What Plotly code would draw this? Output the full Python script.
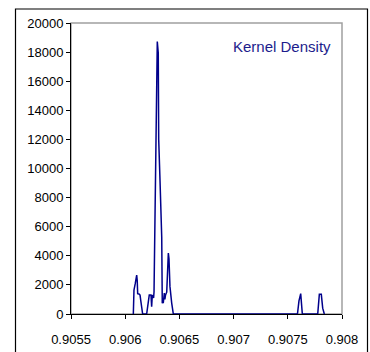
import plotly.graph_objects as go

# Kernel density estimate evaluated along the value axis
x_values = [
    0.906075, 0.906081, 0.906093, 0.906106, 0.906111, 0.906115, 0.906127,
    0.906137, 0.906143, 0.906152, 0.906161, 0.906198, 0.906213, 0.906222,
    0.906238, 0.906244, 0.906250, 0.906262, 0.906266, 0.906275, 0.906281,
    0.906291, 0.906296, 0.906305, 0.906309, 0.906321, 0.906337, 0.906342,
    0.906346, 0.906351, 0.906361, 0.906366, 0.906372, 0.906383, 0.906388,
    0.906398, 0.906404, 0.906413, 0.906429, 0.906444, 0.907589, 0.907603,
    0.907619, 0.907626, 0.907634, 0.907776, 0.907791, 0.907809, 0.907822,
    0.907837,
]
density = [
    0, 1650, 2100, 2680, 2300, 1400, 1380,
    1300, 960, 275, 0, 0, 960, 1300,
    1300, 500, 1300, 1100, 1530, 6460, 8300,
    12190, 18720, 17940, 12000, 9200, 5300, 735,
    1000, 750, 1440, 1000, 1300, 1500, 2340,
    4190, 3800, 1880, 750, 0, 0, 900,
    1400, 700, 0, 0, 1350, 1350, 400,
    0,
]

x_ticks = [0.9055, 0.906, 0.9065, 0.907, 0.9075, 0.908]
x_tick_labels = ["0.9055", "0.906", "0.9065", "0.907", "0.9075", "0.908"]
y_ticks = [0, 2000, 4000, 6000, 8000, 10000, 12000, 14000, 16000, 18000, 20000]
y_tick_labels = [str(v) for v in y_ticks]

W, H = 370, 352
ML, MR, MT, MB = 71, 28, 23, 38
pw, ph = W - ML - MR, H - MT - MB


def px_to_paper_x(px):
    return (px - ML) / pw


def px_to_paper_y(py):
    return (H - MB - py) / ph


fig = go.Figure()
fig.add_trace(go.Scatter(
    x=x_values, y=density, mode="lines",
    line=dict(color="#00008B", width=1.5),
    showlegend=False, hoverinfo="skip",
))

axis_font = dict(family="Liberation Sans, Arial, sans-serif", size=13, color="#000000")

fig.update_layout(
    width=W, height=H,
    margin=dict(l=ML, r=MR, t=MT, b=MB),
    paper_bgcolor="white", plot_bgcolor="white",
    xaxis=dict(
        range=[0.9055, 0.908], tickvals=x_ticks, ticktext=x_tick_labels,
        showgrid=False, zeroline=False, showline=True, linecolor="#000000",
        linewidth=1, ticks="outside", ticklen=4, tickcolor="#000000",
        tickfont=axis_font, ticklabelstandoff=9, automargin=False,
    ),
    yaxis=dict(
        range=[0, 20000], tickvals=y_ticks, ticktext=y_tick_labels,
        showgrid=False, zeroline=False, showline=True, linecolor="#000000",
        linewidth=1, ticks="outside", ticklen=4, tickcolor="#000000",
        tickfont=axis_font, automargin=False,
    ),
    shapes=[
        # grey frame around the plotting area
        dict(type="rect", xref="paper", yref="paper", x0=0, y0=0, x1=1, y1=1,
             line=dict(color="#A0A0A0", width=1.5), layer="below"),
        # outer chart border (its lower edge runs past the page)
        dict(type="rect", xref="paper", yref="paper",
             x0=px_to_paper_x(15.5), x1=px_to_paper_x(367.5),
             y0=px_to_paper_y(356), y1=px_to_paper_y(9),
             line=dict(color="#000000", width=1.2)),
    ],
    annotations=[
        dict(text="Kernel Density", xref="paper", yref="paper",
             x=px_to_paper_x(332.5), y=px_to_paper_y(46.5),
             xanchor="right", yanchor="middle", showarrow=False,
             font=dict(family="Liberation Sans, Arial, sans-serif", size=15,
                       color="#1C1C8C")),
    ],
)

fig.write_html("out.html")
